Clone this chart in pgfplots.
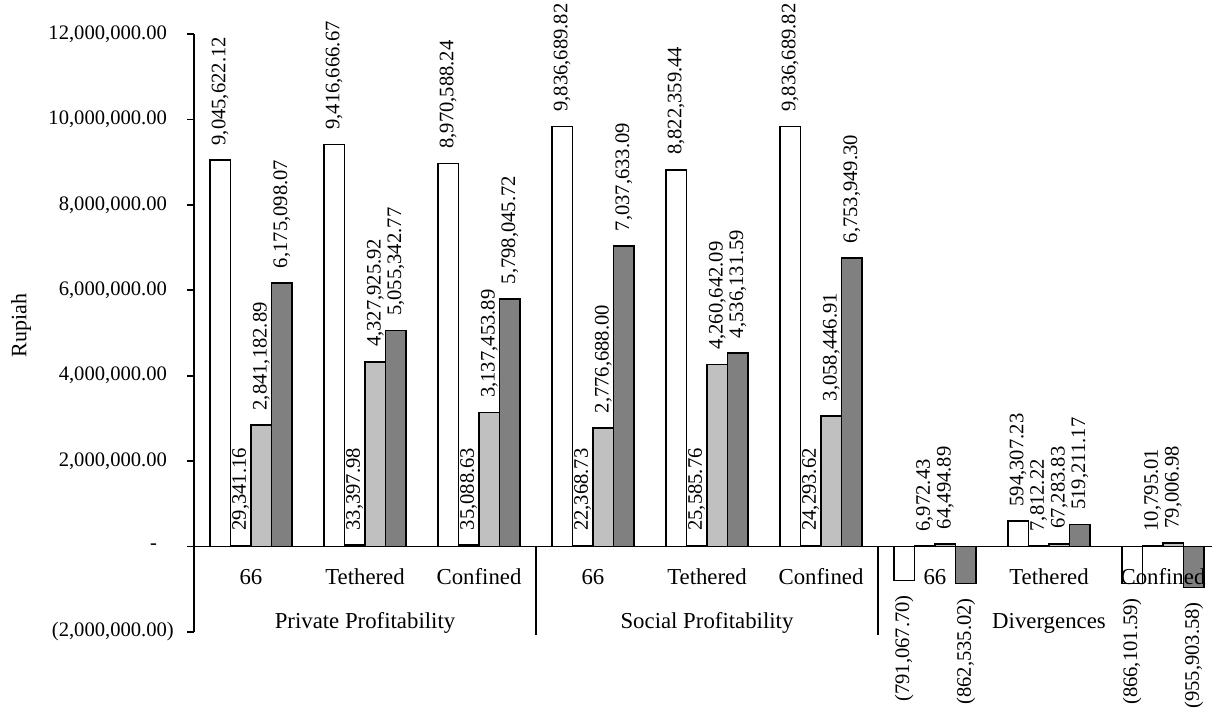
\documentclass[border=0pt]{standalone}
\usepackage{pgfplots}
\pgfplotsset{compat=1.18}
\usepackage{pgfplotstable}
\usepackage{fontspec}
\setmainfont{Liberation Serif}

\definecolor{barlight}{RGB}{192,192,192}
\definecolor{bardark}{RGB}{128,128,128}

% labels of negative values are written in brackets and hang below the bar
\def\labelanchor#1#2\relax{\if(#1\def\myanc{east}\else\def\myanc{west}\fi}

% columns: category index, value (Rupiah), printed label
\pgfplotstableread{
x y lab
0 9045622.12 9,045,622.12
1 9416666.67 9,416,666.67
2 8970588.24 8,970,588.24
3 9836689.82 9,836,689.82
4 8822359.44 8,822,359.44
5 9836689.82 9,836,689.82
6 -791067.70 (791,067.70)
7 594307.23 594,307.23
8 -866101.59 (866,101.59)
}\tabA

\pgfplotstableread{
x y lab
0 29341.16 29,341.16
1 33397.98 33,397.98
2 35088.63 35,088.63
3 22368.73 22,368.73
4 25585.76 25,585.76
5 24293.62 24,293.62
6 6972.43 6,972.43
7 7812.22 7,812.22
8 10795.01 10,795.01
}\tabB

\pgfplotstableread{
x y lab
0 2841182.89 2,841,182.89
1 4327925.92 4,327,925.92
2 3137453.89 3,137,453.89
3 2776688.00 2,776,688.00
4 4260642.09 4,260,642.09
5 3058446.91 3,058,446.91
6 64494.89 64,494.89
7 67283.83 67,283.83
8 79006.98 79,006.98
}\tabC

\pgfplotstableread{
x y lab
0 6175098.07 6,175,098.07
1 5055342.77 5,055,342.77
2 5798045.72 5,798,045.72
3 7037633.09 7,037,633.09
4 4536131.59 4,536,131.59
5 6753949.30 6,753,949.30
6 -862535.02 (862,535.02)
7 519211.17 519,211.17
8 -955903.58 (955,903.58)
}\tabD

\pgfplotsset{
  valbar/.style={draw=black, line width=0.8pt, fill=#1,
    nodes near coords,
    point meta=explicit symbolic,
    every node near coord/.append style={
      /utils/exec={\edef\tmpmeta{\pgfplotspointmeta}\expandafter\labelanchor\tmpmeta\relax},
      rotate=90, anchor=\myanc, inner xsep=7.2pt, inner ysep=0pt,
      font=\fontsize{10.3}{12}\selectfont, text=black, line width=0.4pt},
  },
}

\begin{document}
\begin{tikzpicture}
\begin{axis}[
  at={(0pt,0pt)}, anchor=south west,
  scale only axis, width=509pt, height=299pt,
  ybar=0pt, bar width=10.3pt,
  enlargelimits=false,
  xmin=-0.5, xmax=8.43,
  ymin=-2000000, ymax=12000000,
  axis y line=left, axis x line=middle,
  axis line style={-, line width=0.8pt, black},
  axis on top=true,
  hide obscured x ticks=false, hide obscured y ticks=false,
  clip=false,
  scaled y ticks=false,
  xtick={0,1,2,3,4,5,6,7,8},
  xticklabels={66,Tethered,Confined,66,Tethered,Confined,66,Tethered,Confined},
  x tick style={draw=none},
  xticklabel style={font=\fontsize{11.4}{13}\selectfont, anchor=base, yshift=-15.5pt},
  ytick={-2000000,0,2000000,4000000,6000000,8000000,10000000,12000000},
  yticklabels={{(2,000,000.00\rlap{)}},{-\kern5pt},{2,000,000.00},{4,000,000.00},{6,000,000.00},{8,000,000.00},{10,000,000.00},{12,000,000.00}},
  yticklabel style={font=\fontsize{10.3}{12}\selectfont, xshift=-6.5pt},
  tick align=outside, major tick length=3.5pt,
  y tick style={line width=0.8pt, black},
]
\addplot[valbar=white] table[x=x, y=y, meta=lab] {\tabA};
\addplot[valbar=white] table[x=x, y=y, meta=lab] {\tabB};
\addplot[valbar=barlight] table[x=x, y=y, meta=lab] {\tabC};
\addplot[valbar=bardark] table[x=x, y=y, meta=lab] {\tabD};

% separators between the three groups of categories
\draw[line width=0.8pt] (axis cs:2.5,0) -- (axis cs:2.5,-2080000);
\draw[line width=0.8pt] (axis cs:5.5,0) -- (axis cs:5.5,-2080000);

% group names
\node[font=\fontsize{11.4}{13}\selectfont, anchor=base] at ([yshift=-40.8pt]axis cs:1,0) {Private Profitability};
\node[font=\fontsize{11.4}{13}\selectfont, anchor=base] at ([yshift=-40.8pt]axis cs:4,0) {Social Profitability};
\node[font=\fontsize{11.4}{13}\selectfont, anchor=base] at ([yshift=-40.8pt]axis cs:7,0) {Divergences};

% axis title
\node[rotate=90, font=\fontsize{11}{13}\selectfont] at ([xshift=-86.5pt]axis description cs:0,0.513) {Rupiah};
\end{axis}
\pgfresetboundingbox
\useasboundingbox (-97pt,-38.5pt) rectangle (509pt,316pt);
\end{tikzpicture}
\end{document}
